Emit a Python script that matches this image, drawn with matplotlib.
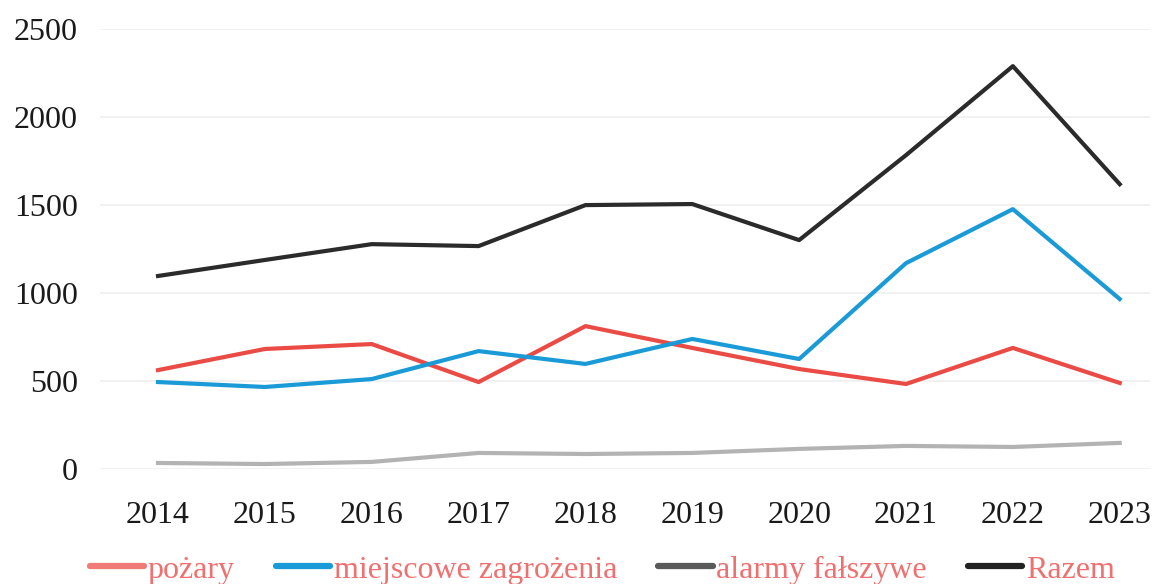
import matplotlib
matplotlib.use("Agg")
import matplotlib.pyplot as plt
from matplotlib.lines import Line2D

# data
years = [2014, 2015, 2016, 2017, 2018, 2019, 2020, 2021, 2022, 2023]
pozary = [562, 682, 710, 494, 812, 688, 568, 483, 688, 489]
miejscowe = [494, 466, 511, 670, 597, 739, 625, 1170, 1477, 966]
alarmy = [34, 28, 40, 91, 85, 91, 114, 131, 125, 148]
razem = [1097, 1188, 1278, 1267, 1500, 1506, 1301, 1784, 2290, 1619]
labels = ["pożary", "miejscowe zagrożenia", "alarmy fałszywe", "Razem"]

plt.rcParams["font.family"] = ["Liberation Serif", "DejaVu Serif"]

fig = plt.figure(figsize=(11.56, 5.84), dpi=100)
ax = fig.add_axes([0.0865, 0.197, 0.908, 0.753])

lw = 3.0
ax.plot(years, pozary, color="#ea4b45", lw=lw)
ax.plot(years, miejscowe, color="#1a9ad6", lw=lw)
ax.plot(years, alarmy, color="#b3b3b3", lw=lw)
ax.plot(years, razem, color="#2b2b2b", lw=lw)

ax.set_ylim(0, 2500)
ax.set_xlim(2013.457, 2023.28)
ax.set_yticks(range(0, 2501, 500))
ax.set_xticks(years)
ax.yaxis.grid(True, color="#efefef", lw=1.2)
ax.set_axisbelow(True)
for s in ax.spines.values():
    s.set_visible(False)
ax.tick_params(axis="both", length=0, labelsize=23, colors="#1a1a1a")
ax.tick_params(axis="x", pad=23)
ax.tick_params(axis="y", pad=16)

# legend handles (gray one is darker in the legend)
handles = [
    Line2D([], [], color="#f07a78", lw=4.5, solid_capstyle="round"),
    Line2D([], [], color="#1a9ad6", lw=4.5, solid_capstyle="round"),
    Line2D([], [], color="#5a5a5a", lw=4.5, solid_capstyle="round"),
    Line2D([], [], color="#222222", lw=4.5, solid_capstyle="round"),
]
leg = fig.legend(handles, labels, loc="center", bbox_to_anchor=(0.521, 0.024),
                 ncol=4, frameon=False, fontsize=23, handlelength=1.7,
                 handletextpad=0.1, columnspacing=1.3)
for t in leg.get_texts():
    t.set_color("#f07070")

fig.savefig("out.png", dpi=100)
